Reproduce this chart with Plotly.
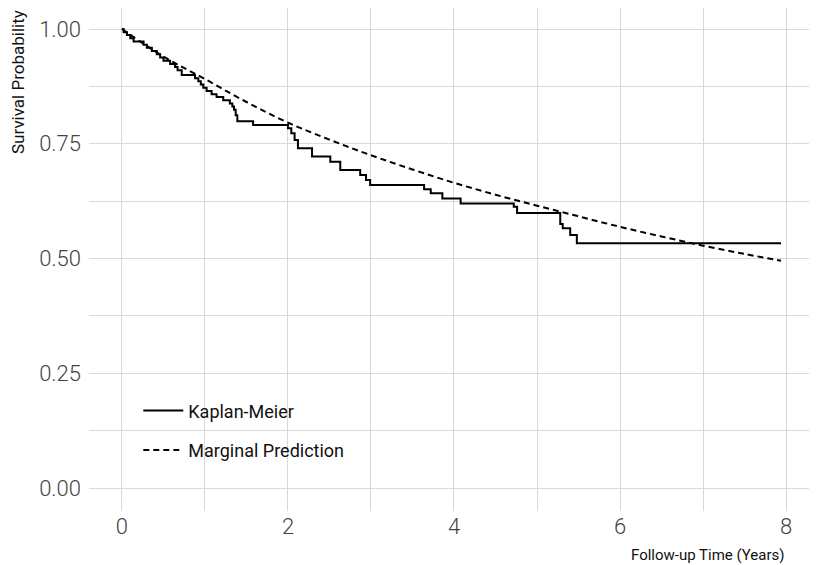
import plotly.graph_objects as go

# Kaplan-Meier step curve (time in years, survival after each event)
km_time = [0, 0.02, 0.06, 0.10, 0.14, 0.26, 0.30, 0.36, 0.42, 0.46, 0.50, 0.58, 0.64,
           0.67, 0.72, 0.88, 0.92, 0.95, 0.98, 1.02, 1.08, 1.14, 1.22, 1.30, 1.33,
           1.35, 1.37, 1.39, 1.58, 2.00, 2.04, 2.08, 2.12, 2.29, 2.51, 2.63, 2.87,
           2.94, 2.99, 3.64, 3.72, 3.86, 4.08, 4.72, 4.76, 5.28, 5.31, 5.40, 5.48, 7.94]
km_surv = [1.000, 0.993, 0.987, 0.980, 0.973, 0.966, 0.959, 0.952, 0.945, 0.938, 0.931,
           0.924, 0.917, 0.910, 0.900, 0.893, 0.886, 0.879, 0.872, 0.865, 0.858, 0.852,
           0.845, 0.838, 0.831, 0.824, 0.812, 0.799, 0.791, 0.784, 0.773, 0.758, 0.740,
           0.722, 0.711, 0.693, 0.682, 0.671, 0.660, 0.651, 0.642, 0.631, 0.620, 0.613,
           0.599, 0.575, 0.566, 0.551, 0.533, 0.533]

# Marginal prediction curve
mp_time = [0, 0.5, 1.0, 1.5, 2.0, 2.5, 3.0, 3.5, 4.0, 4.5, 5.0, 5.5, 6.0, 6.5, 7.0, 7.5, 7.94]
mp_surv = [1.000, 0.940, 0.891, 0.841, 0.796, 0.759, 0.725, 0.694, 0.665, 0.639, 0.615,
           0.592, 0.569, 0.548, 0.528, 0.510, 0.495]

x_ticks = [0, 2, 4, 6, 8]
y_ticks = [0.00, 0.25, 0.50, 0.75, 1.00]
y_tick_labels = ["0.00", "0.25", "0.50", "0.75", "1.00"]

FONT = "Roboto, sans-serif"
GRID = "#d9d9d9"

fig = go.Figure()
fig.add_trace(go.Scatter(
    x=km_time, y=km_surv, mode="lines", name="Kaplan-Meier",
    line=dict(color="black", width=2, shape="hv"), legendgroup="a"))
fig.add_trace(go.Scatter(
    x=mp_time, y=mp_surv, mode="lines", name="Marginal Prediction",
    line=dict(color="black", width=2, dash="6px,4px", shape="spline"), legendgroup="b"))

fig.update_layout(
    width=809, height=557,
    margin=dict(l=81, r=3, t=0, b=54),
    paper_bgcolor="white", plot_bgcolor="white",
    font=dict(family=FONT, color="#222222"),
    showlegend=True,
    legend=dict(x=0.068, y=0.236, xanchor="left", yanchor="top",
                bgcolor="rgba(0,0,0,0)", font=dict(size=18, color="#111111"),
                tracegroupgap=13, itemwidth=40),
    xaxis=dict(range=[-0.397, 8.337], tickvals=x_ticks, showgrid=True,
               gridcolor=GRID, gridwidth=1, zeroline=False, showline=False,
               ticks="", tickfont=dict(size=22, color="#444444", weight=300),
               minor=dict(dtick=1, showgrid=True, gridcolor=GRID, gridwidth=1),
               ticklabelstandoff=0),
    yaxis=dict(range=[-0.0501, 1.0458], tickvals=y_ticks, ticktext=y_tick_labels,
               showgrid=True, gridcolor=GRID, gridwidth=1, zeroline=False,
               showline=False, ticks="", tickfont=dict(size=22, color="#444444", weight=300),
               minor=dict(dtick=0.125, showgrid=True, gridcolor=GRID, gridwidth=1),
               ticklabelstandoff=7),
    annotations=[
        dict(text="Follow-up Time (Years)", xref="paper", yref="paper",
             x=1, y=0, xanchor="right", yanchor="top", yshift=-33, xshift=-27,
             showarrow=False, font=dict(size=15, color="#111111")),
        dict(text="Survival Probability", xref="paper", yref="paper",
             x=0, y=1, xanchor="center", yanchor="top", xshift=-71, yshift=0,
             textangle=-90, showarrow=False, font=dict(size=17, color="#111111")),
    ],
)

fig.write_html("out.html")
